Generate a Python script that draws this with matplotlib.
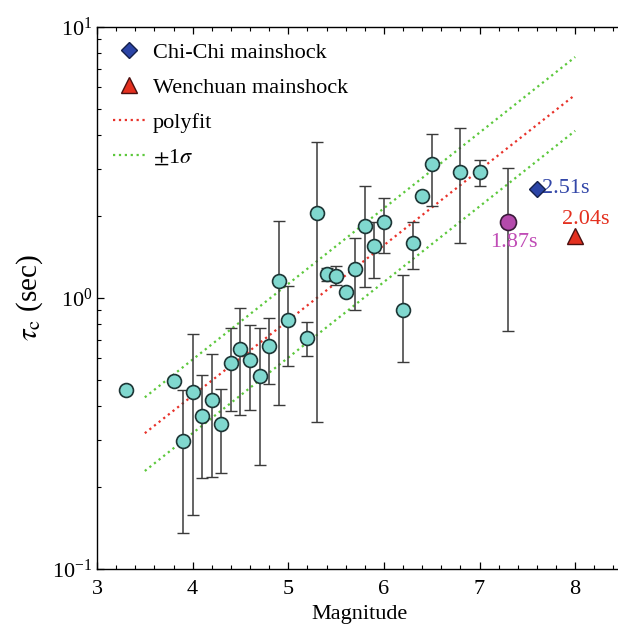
import matplotlib
matplotlib.use("Agg")
import matplotlib.pyplot as plt
from matplotlib.ticker import MultipleLocator, LogLocator, LogFormatterMathtext, NullFormatter
import numpy as np

plt.rcParams['font.family'] = ['Liberation Serif', 'DejaVu Serif']
plt.rcParams['mathtext.fontset'] = 'stix'

# ---- data ----
magnitude = [3.3, 3.8, 3.9, 4.0, 4.1, 4.2, 4.3, 4.4, 4.5, 4.6, 4.7, 4.8, 4.9, 5.0,
             5.2, 5.3, 5.4, 5.5, 5.6, 5.7, 5.8, 5.9, 6.0, 6.2, 6.3, 6.4, 6.5, 6.8, 7.0]
tau_c = [0.456, 0.492, 0.296, 0.449, 0.366, 0.419, 0.342, 0.578, 0.646, 0.588, 0.514,
         0.663, 1.16, 0.833, 0.71, 2.06, 1.23, 1.21, 1.05, 1.28, 1.85, 1.56, 1.91, 0.90,
         1.60, 2.37, 3.13, 2.92, 2.92]
tau_hi = [np.nan, np.nan, 0.456, 0.734, 0.518, 0.619, 0.46, 0.773, 0.915, 0.793, 0.778,
          0.847, 1.93, 1.11, 0.818, 3.77, 1.29, 1.31, np.nan, 1.67, 2.6, 1.91, 2.34, 1.22,
          1.91, np.nan, 4.04, 4.25, 3.24]
tau_lo = [np.nan, np.nan, 0.136, 0.158, 0.216, 0.218, 0.226, 0.382, 0.369, 0.385, 0.242,
          0.48, 0.402, 0.56, 0.609, 0.348, 1.16, 1.12, np.nan, 0.90, 1.10, 1.19, 1.46, 0.583,
          1.28, np.nan, 2.19, 1.60, 2.6]

mag_event_m = 7.3
mag_event_tau = 1.90
mag_event_hi = 3.02
mag_event_lo = 0.753

chichi_m, chichi_tau = 7.6, 2.53
wenchuan_m, wenchuan_tau = 8.0, 1.70

fit_m = [3.5, 8.0]
fit_tau = [0.317, 5.62]
fit_upper = [0.430, 7.75]
fit_lower = [0.230, 4.14]

# ---- figure ----
W, H = 618, 624
fig = plt.figure(figsize=(W / 100, H / 100), dpi=100)
ax = fig.add_axes([97 / W, (H - 569) / H, 526 / W, 542 / H])
ax.set_yscale('log')
ax.set_xlim(3, 8.5)
ax.set_ylim(0.1, 10)

green = '#5cc83c'
red = '#e8322a'
ax.plot(fit_m, fit_upper, ':', color=green, lw=1.6, zorder=2)
ax.plot(fit_m, fit_lower, ':', color=green, lw=1.6, zorder=2)
ax.plot(fit_m, fit_tau, ':', color=red, lw=1.6, zorder=2)

m = np.array(magnitude)
t = np.array(tau_c)
hi = np.array(tau_hi)
lo = np.array(tau_lo)
has = ~np.isnan(hi)
ax.errorbar(m[has], t[has], yerr=[t[has] - lo[has], hi[has] - t[has]], fmt='none',
            ecolor='#3a3a3a', elinewidth=1.1, capsize=4, capthick=1.0, zorder=3)
ax.plot(m, t, 'o', ms=10, mfc='#80d8cf', mec='#1d3535', mew=1.2, zorder=4, ls='none')

ax.errorbar([mag_event_m], [mag_event_tau],
            yerr=[[mag_event_tau - mag_event_lo], [mag_event_hi - mag_event_tau]],
            fmt='none', ecolor='#3a3a3a', elinewidth=1.1, capsize=4, capthick=1.0, zorder=3)
ax.plot([mag_event_m], [mag_event_tau], 'o', ms=11.5, mfc='#b44aac', mec='#3a1a3a',
        mew=1.2, zorder=5)

h1, = ax.plot([chichi_m], [chichi_tau], 'D', ms=8.5, mfc='#2b44a6', mec='#15204a',
              mew=1.0, zorder=5, ls='none')
h2, = ax.plot([wenchuan_m], [wenchuan_tau], '^', ms=11, mfc='#e4301f', mec='#4a1010',
              mew=1.0, zorder=5, ls='none')
h3, = ax.plot([], [], ':', color=red, lw=1.6)
h4, = ax.plot([], [], ':', color=green, lw=1.6)

ax.text(chichi_m + 0.05, chichi_tau, '%.2fs' % 2.51, color='#3347a8', fontsize=16,
        va='center', ha='left')
ax.text(8.11, 1.95, '%.2fs' % 2.04, color='#e4301f', fontsize=16,
        va='center', ha='center')
ax.text(7.36, 1.60, '%.2fs' % 1.87, color='#c04cb6', fontsize=16,
        va='center', ha='center')

leg = ax.legend([h1, h2, h3, h4],
                ['Chi-Chi mainshock', 'Wenchuan mainshock', 'polyfit', r'$\pm$1$\sigma$'],
                loc='upper left', frameon=False, fontsize=16, handlelength=1.5,
                handletextpad=0.3, labelspacing=0.65, borderaxespad=0.4,
                borderpad=0.3, numpoints=1)

ax.xaxis.set_major_locator(MultipleLocator(1))
ax.xaxis.set_minor_locator(MultipleLocator(0.2))
ax.yaxis.set_major_locator(LogLocator(base=10))
ax.yaxis.set_minor_locator(LogLocator(base=10, subs=np.arange(2, 10)))
ax.yaxis.set_major_formatter(LogFormatterMathtext())
ax.yaxis.set_minor_formatter(NullFormatter())
ax.tick_params(which='both', direction='in', top=True, right=False, labelsize=16)
ax.tick_params(which='major', length=5, width=0.9)
ax.tick_params(which='minor', length=3, width=0.8)
ax.tick_params(axis='x', pad=8)
for s in ax.spines.values():
    s.set_linewidth(1.0)

ax.set_xlabel('Magnitude', fontsize=16, labelpad=4)
ax.set_ylabel(r'$\tau_{\mathrm{c}}$ (sec)', fontsize=21, labelpad=5)

fig.savefig('out.png', dpi=100)
